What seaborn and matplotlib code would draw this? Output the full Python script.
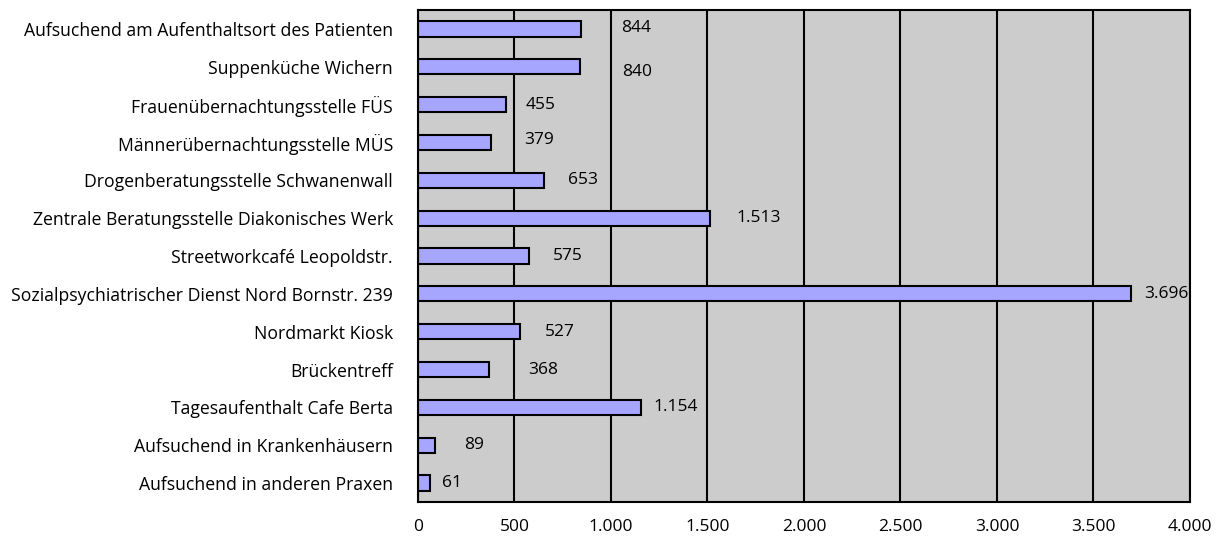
import matplotlib
matplotlib.use("Agg")
import matplotlib.pyplot as plt
import seaborn as sns
import pandas as pd
from matplotlib.ticker import FuncFormatter, FixedLocator

categories = [
    "Aufsuchend am Aufenthaltsort des Patienten",
    "Suppenküche Wichern",
    "Frauenübernachtungsstelle FÜS",
    "Männerübernachtungsstelle MÜS",
    "Drogenberatungsstelle Schwanenwall",
    "Zentrale Beratungsstelle Diakonisches Werk",
    "Streetworkcafé Leopoldstr.",
    "Sozialpsychiatrischer Dienst Nord Bornstr. 239",
    "Nordmarkt Kiosk",
    "Brückentreff",
    "Tagesaufenthalt Cafe Berta",
    "Aufsuchend in Krankenhäusern",
    "Aufsuchend in anderen Praxen",
]
values = [844, 840, 455, 379, 653, 1513, 575, 3696, 527, 368, 1154, 89, 61]
x_ticks = [0, 500, 1000, 1500, 2000, 2500, 3000, 3500, 4000]

# label nudges (points) as placed in the original chart
label_dx = [29, 30, 14, 24, 17, 19, 17, 9, 18, 28, 9, 21, 9]
label_dy = [1, -4, 0, 2, 0, 0, 0, 0, 0, 0, 0, 0, 0]

df = pd.DataFrame({"Ort": categories, "Anzahl": values})

sns.set_style("white")
plt.rcParams["font.family"] = ["Open Sans", "DejaVu Sans"]
plt.rcParams["text.color"] = "black"
plt.rcParams["xtick.color"] = "black"
plt.rcParams["ytick.color"] = "black"

def de_fmt(v, pos=None):
    return f"{int(v):,}".replace(",", ".")

fig = plt.figure(figsize=(12.24, 5.40), dpi=100)
ax = fig.add_axes([0.3415, 0.0704, 0.6307, 0.911])
ax.set_facecolor("#CCCCCC")

sns.barplot(data=df, y="Ort", x="Anzahl", orient="h", color="#A6A6FF",
            edgecolor="black", linewidth=1.5, width=0.4, saturation=1, ax=ax)

ax.set_xlim(0, 4000)
ax.set_ylim(len(categories) - 0.5, -0.5)
ax.xaxis.set_major_locator(FixedLocator(x_ticks))
ax.xaxis.set_major_formatter(FuncFormatter(de_fmt))
ax.set_axisbelow(True)
ax.grid(axis="x", color="black", linewidth=1.5)
ax.grid(axis="y", visible=False)
ax.set_xlabel("")
ax.set_ylabel("")

for s in ax.spines.values():
    s.set_color("black")
    s.set_linewidth(1.5)
    s.set_visible(True)

ax.tick_params(axis="x", direction="out", length=5, width=1.5, labelsize=12.5, pad=7)
ax.tick_params(axis="y", which="major", length=0, labelsize=12.7, pad=18)
ax.set_yticks([i + 0.5 for i in range(-1, len(categories))], minor=True)
ax.tick_params(axis="y", which="minor", direction="out", length=5, width=1.5)

for i, v in enumerate(values):
    ax.annotate(de_fmt(v), xy=(v, i), xytext=(label_dx[i], label_dy[i]),
                textcoords="offset points", va="center", ha="left", fontsize=12.5)

fig.savefig("out.png", dpi=100)
